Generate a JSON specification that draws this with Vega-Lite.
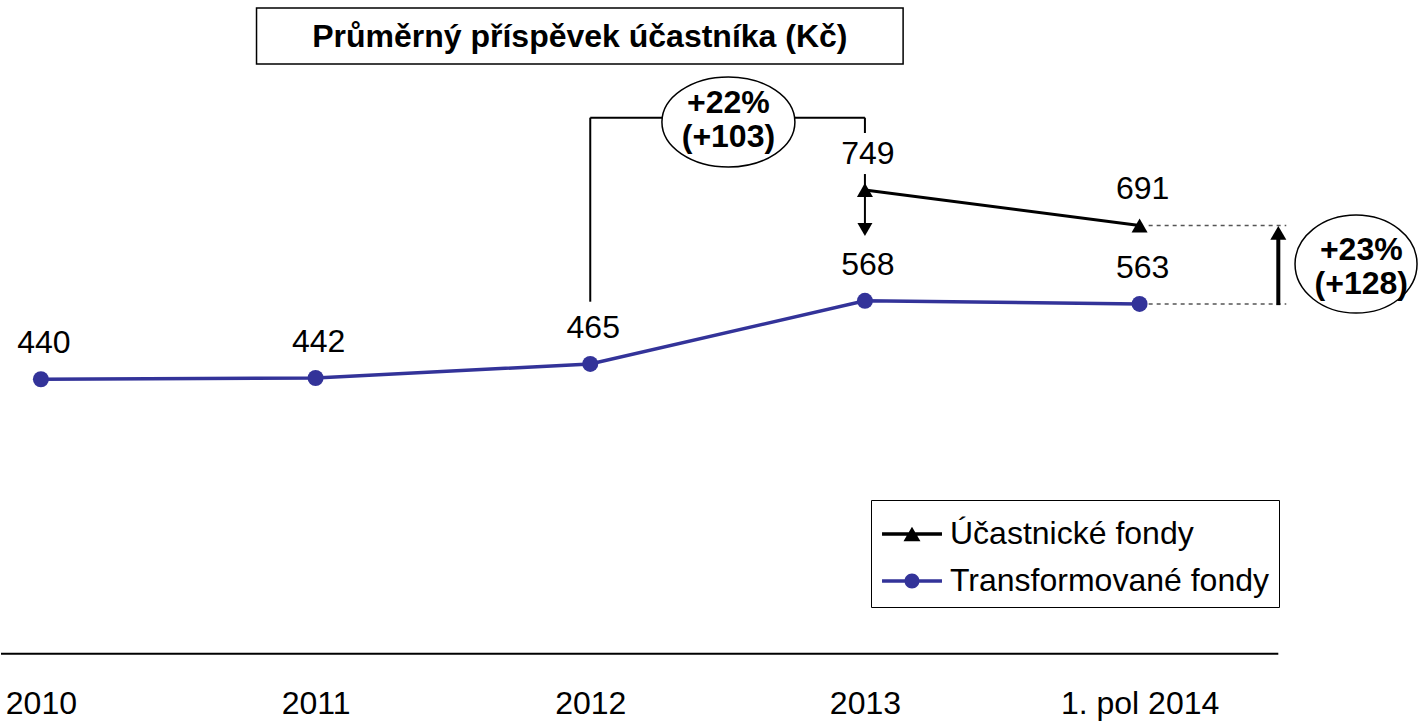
{
  "$schema": "https://vega.github.io/schema/vega-lite/v6.json",
  "width": 1420,
  "height": 722,
  "autosize": {"type": "fit", "contains": "padding"},
  "padding": 0,
  "background": "white",
  "config": {"view": {"stroke": null}, "font": "Liberation Sans"},
  "datasets": {
    "series": [
      {"period": "2010", "i": 0, "series": "Transformované fondy", "value": 440},
      {"period": "2011", "i": 1, "series": "Transformované fondy", "value": 442},
      {"period": "2012", "i": 2, "series": "Transformované fondy", "value": 465},
      {"period": "2013", "i": 3, "series": "Transformované fondy", "value": 568},
      {"period": "1. pol 2014", "i": 4, "series": "Transformované fondy", "value": 563},
      {"period": "2013", "i": 3, "series": "Účastnické fondy", "value": 749},
      {"period": "1. pol 2014", "i": 4, "series": "Účastnické fondy", "value": 691}
    ]
  },
  "encoding": {
    "x": {
      "field": "i",
      "type": "quantitative",
      "scale": {"domain": [-0.1453, 5.0136], "nice": false, "zero": false},
      "axis": {
        "values": [0, 1, 2, 3, 4],
        "labelExpr": "['2010','2011','2012','2013','1. pol 2014'][datum.value]",
        "grid": false,
        "domain": false,
        "ticks": false,
        "title": null,
        "offset": -68,
        "labelFontSize": 32,
        "labelFont": "Liberation Sans",
        "labelColor": "black",
        "labelBaseline": "middle",
        "labelPadding": 49,
        "labelOverlap": false,
        "labelFlush": false,
        "labelBound": false
      }
    },
    "y": {
      "field": "value",
      "type": "quantitative",
      "scale": {"domain": [-119.5, 1059.1], "nice": false, "zero": false},
      "axis": null
    }
  },
  "layer": [
    {
      "data": {"values": [{"i": -0.1453, "i2": 4.505, "value": -8}]},
      "mark": {"type": "rule", "color": "black", "strokeWidth": 2},
      "encoding": {"x2": {"field": "i2"}}
    },
    {
      "data": {"values": [{"i": 0.785, "i2": 3.139, "value": 954.6, "value2": 1046}]},
      "mark": {"type": "rect", "fill": "white", "stroke": "black", "strokeWidth": 1.5},
      "encoding": {"x2": {"field": "i2"}, "y2": {"field": "value2"}}
    },
    {
      "data": {"values": [{"i": 1.962, "value": 999, "label": "Průměrný příspěvek účastníka (Kč)"}]},
      "mark": {"type": "text", "font": "Liberation Sans", "fontSize": 32, "fontWeight": "bold", "color": "black", "baseline": "middle", "align": "center"},
      "encoding": {"text": {"field": "label"}}
    },
    {
      "data": {"values": [
        {"i": 2, "i2": 2, "value": 566.6, "value2": 867},
        {"i": 2, "i2": 3, "value": 867, "value2": 867},
        {"i": 3, "i2": 3, "value": 867, "value2": 842}
      ]},
      "mark": {"type": "rule", "color": "black", "strokeWidth": 2},
      "encoding": {"x2": {"field": "i2"}, "y2": {"field": "value2"}}
    },
    {
      "data": {"values": [
        {"i": 4.033, "i2": 4.534, "value": 691},
        {"i": 4.033, "i2": 4.534, "value": 563}
      ]},
      "mark": {"type": "rule", "color": "#555555", "strokeWidth": 1.5, "strokeDash": [4, 4]},
      "encoding": {"x2": {"field": "i2"}}
    },
    {
      "data": {"values": [{"i": 4.505, "value": 561, "value2": 680}]},
      "mark": {"type": "rule", "color": "black", "strokeWidth": 4},
      "encoding": {"y2": {"field": "value2"}}
    },
    {
      "data": {"values": [{"i": 4.505, "value": 679}]},
      "mark": {"type": "point", "shape": "triangle-up", "size": 256, "filled": true, "color": "black", "opacity": 1}
    },
    {
      "data": {"values": [{"i": 3, "value": 775, "value2": 686}]},
      "mark": {"type": "rule", "color": "black", "strokeWidth": 2},
      "encoding": {"y2": {"field": "value2"}}
    },
    {
      "data": {"values": [{"i": 3, "value": 684.5}]},
      "mark": {"type": "point", "shape": "triangle-down", "size": 225, "filled": true, "color": "black", "opacity": 1}
    },
    {
      "data": {"values": [{"i": 2.503, "value": 860}]},
      "mark": {
        "type": "point",
        "shape": "M-1,0C-1,-0.374 -0.5523,-0.677 0,-0.677C0.5523,-0.677 1,-0.374 1,0C1,0.374 0.5523,0.677 0,0.677C-0.5523,0.677 -1,0.374 -1,0Z",
        "size": 17689,
        "filled": true,
        "fill": "white",
        "stroke": "black",
        "strokeWidth": 1.5,
        "opacity": 1
      }
    },
    {
      "data": {"values": [{"i": 4.788, "value": 628}]},
      "mark": {
        "type": "point",
        "shape": "M-1,0C-1,-0.4435 -0.5523,-0.803 0,-0.803C0.5523,-0.803 1,-0.4435 1,0C1,0.4435 0.5523,0.803 0,0.803C-0.5523,0.803 -1,0.4435 -1,0Z",
        "size": 14884,
        "filled": true,
        "fill": "white",
        "stroke": "black",
        "strokeWidth": 1.5,
        "opacity": 1
      }
    },
    {
      "data": {"values": [
        {"i": 2.503, "value": 891, "label": "+22%\n(+103)"},
        {"i": 4.807, "value": 651, "label": "+23%\n(+128)"}
      ]},
      "mark": {"type": "text", "font": "Liberation Sans", "fontSize": 32, "fontWeight": "bold", "color": "black", "baseline": "middle", "align": "center", "lineBreak": "\n", "lineHeight": 34},
      "encoding": {"text": {"field": "label"}}
    },
    {
      "data": {"name": "series"},
      "transform": [{"filter": "datum.series === 'Transformované fondy'"}],
      "mark": {"type": "line", "strokeWidth": 3.5, "color": "#333399"}
    },
    {
      "data": {"name": "series"},
      "transform": [{"filter": "datum.series === 'Účastnické fondy'"}],
      "mark": {"type": "line", "strokeWidth": 3, "color": "#000000"}
    },
    {
      "data": {"name": "series"},
      "mark": {"type": "point", "filled": true, "size": 256, "opacity": 1},
      "encoding": {
        "color": {
          "field": "series",
          "type": "nominal",
          "scale": {"domain": ["Účastnické fondy", "Transformované fondy"], "range": ["#000000", "#333399"]},
          "legend": {
            "orient": "none",
            "legendX": 870,
            "legendY": 500,
            "title": null,
            "padding": 10,
            "strokeColor": "black",
            "fillColor": "white",
            "labelFontSize": 32,
            "labelFont": "Liberation Sans",
            "labelColor": "black",
            "labelBaseline": "middle",
            "symbolSize": 2304,
            "symbolStrokeWidth": 0,
            "symbolOpacity": 1,
            "labelOffset": 21,
            "rowPadding": 7,
            "labelLimit": 600,
            "encode": {
              "symbols": {
                "update": {
                  "shape": {"signal": "datum.index === 0 ? 'M-0.957,-0.073L1.541,-0.073L1.541,0.073L-0.957,0.073Z M0.291,-0.307L0.645,0.307L-0.063,0.307Z' : 'M-0.957,-0.073L1.541,-0.073L1.541,0.073L-0.957,0.073Z M-0.0215,0C-0.0215,-0.1726 0.1184,-0.3125 0.291,-0.3125C0.4636,-0.3125 0.6035,-0.1726 0.6035,0C0.6035,0.1726 0.4636,0.3125 0.291,0.3125C0.1184,0.3125 -0.0215,0.1726 -0.0215,0Z'"}
                }
              }
            }
          }
        },
        "shape": {
          "condition": {"test": "datum.series === 'Účastnické fondy'", "value": "triangle-up"},
          "value": "circle"
        }
      }
    },
    {
      "data": {"name": "series"},
      "mark": {"type": "text", "font": "Liberation Sans", "fontSize": 32, "color": "black", "baseline": "middle", "align": "center", "dy": -36, "dx": 3},
      "encoding": {"text": {"field": "value", "type": "quantitative"}}
    }
  ]
}
